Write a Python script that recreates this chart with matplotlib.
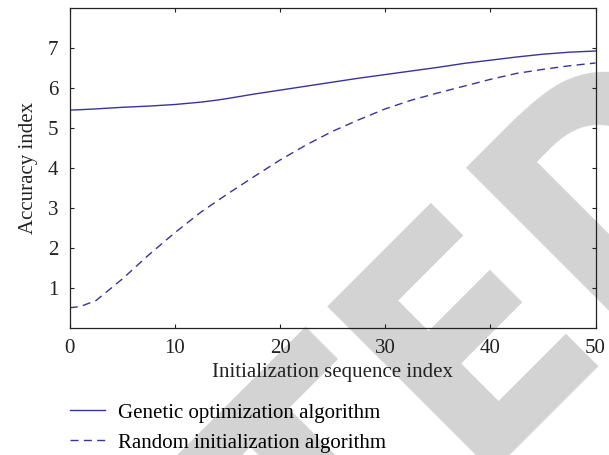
import matplotlib
matplotlib.use("Agg")
import matplotlib.pyplot as plt

plt.rcParams["font.family"] = "serif"
plt.rcParams["font.serif"] = ["Liberation Serif", "DejaVu Serif"]

# values
seq_index = [0, 1, 2.5, 5, 7.5, 10, 12.5, 14, 15, 17.5, 20, 22.5, 25, 27.5,
             30, 32.5, 35, 37.5, 40, 42.5, 45, 47.5, 50]
genetic = [5.45, 5.46, 5.48, 5.52, 5.55, 5.59, 5.65, 5.70, 5.74, 5.85, 5.95,
           6.05, 6.15, 6.25, 6.34, 6.43, 6.52, 6.62, 6.70, 6.78, 6.85, 6.90, 6.93]
random_init = [0.50, 0.53, 0.68, 1.22, 1.82, 2.38, 2.90, 3.17, 3.35, 3.78,
               4.20, 4.58, 4.92, 5.21, 5.48, 5.70, 5.88, 6.05, 6.22, 6.37,
               6.47, 6.56, 6.63]
xticks = [0, 10, 20, 30, 40, 50]
yticks = [1, 2, 3, 4, 5, 6, 7]

line_color = "#3633a0"
fs = 15

fig = plt.figure(figsize=(6.09, 4.55), dpi=100)
ax = fig.add_axes([0.1145, 0.2798, 0.8635, 0.702])
ax.set_facecolor("none")

# retraction stamp behind everything, split at the "E" so it lands in place
stamp = dict(rotation=45, rotation_mode="anchor", va="baseline", fontsize=231,
             color="#d3d3d3", family="DejaVu Sans", weight="bold",
             stretch="condensed", zorder=-1)
fig.text(0.7663, -0.0383, "ED", ha="left", **stamp)
fig.text(0.7663, -0.0383, "RETRACT", ha="right", **stamp)

ax.plot(seq_index, genetic, color=line_color, lw=1.0,
        label="Genetic optimization algorithm")
ax.plot(seq_index, random_init, color=line_color, lw=1.0, dashes=(5.8, 3.8),
        label="Random initialization algorithm")

ax.set_xlim(0, 50)
ax.set_ylim(0, 8)
ax.set_xticks(xticks)
ax.set_yticks(yticks)
ax.tick_params(direction="in", top=True, right=True, length=3, width=0.8,
               labelsize=fs, pad=8, colors="#222222")
for s in ax.spines.values():
    s.set_linewidth(0.9)
    s.set_color("#222222")

ax.set_xlabel("Initialization sequence index", fontsize=fs, color="#222222")
ax.xaxis.set_label_coords(0.5, -0.11)
ax.set_ylabel("Accuracy index", fontsize=fs, color="#222222")
ax.yaxis.set_label_coords(-0.06, 0.5)

fig.legend(loc="upper left", bbox_to_anchor=(70 / 609, 1 - 403 / 455),
           frameon=False, fontsize=fs, handlelength=1.68, handletextpad=0.63,
           labelspacing=0.5, borderpad=0, borderaxespad=0)

fig.savefig("out.png", dpi=100)
